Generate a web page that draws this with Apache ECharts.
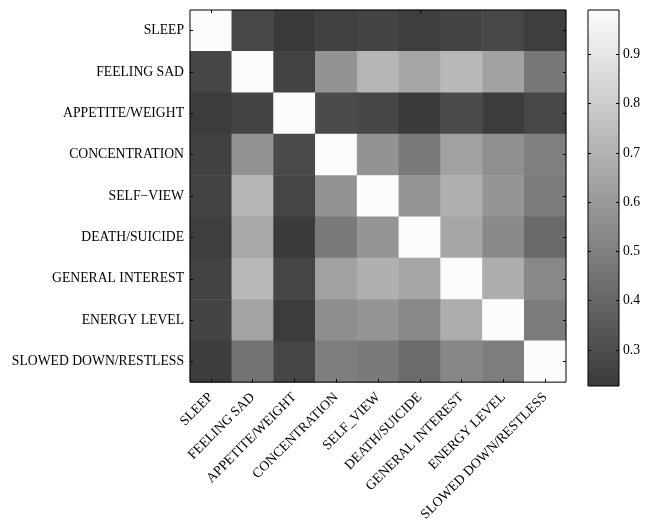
<!DOCTYPE html>
<html>
<head>
<meta charset="utf-8">
<script src="https://cdn.jsdelivr.net/npm/echarts@6/dist/echarts.min.js"></script>
<style>
html,body{margin:0;padding:0;background:#fff;}
#chart{width:652px;height:524px;}
</style>
</head>
<body>
<div id="chart"></div>
<script>
var categories = ['SLEEP','FEELING SAD','APPETITE/WEIGHT','CONCENTRATION','SELF\u2212VIEW','DEATH/SUICIDE','GENERAL INTEREST','ENERGY LEVEL','SLOWED DOWN/RESTLESS'];

var rowSleep        = [1.000,0.278,0.227,0.255,0.267,0.243,0.267,0.278,0.243];
var rowFeelingSad   = [0.275,1.000,0.263,0.576,0.710,0.651,0.722,0.631,0.467];
var rowAppetite     = [0.235,0.267,1.000,0.294,0.275,0.227,0.290,0.235,0.278];
var rowConcentration= [0.255,0.576,0.290,1.000,0.576,0.478,0.631,0.561,0.502];
var rowSelfView     = [0.263,0.710,0.275,0.576,1.000,0.584,0.690,0.584,0.482];
var rowDeath        = [0.243,0.659,0.231,0.478,0.584,1.000,0.655,0.541,0.416];
var rowInterest     = [0.263,0.722,0.270,0.631,0.690,0.651,1.000,0.682,0.533];
var rowEnergy       = [0.267,0.639,0.235,0.557,0.584,0.533,0.678,1.000,0.486];
var rowSlowed       = [0.239,0.451,0.270,0.494,0.478,0.420,0.529,0.490,1.000];

var colorbarTicks = [0.3,0.4,0.5,0.6,0.7,0.8,0.9];
var colorbarMin = 0.227;
var colorbarMax = 0.99;

var rows = [rowSleep,rowFeelingSad,rowAppetite,rowConcentration,rowSelfView,rowDeath,rowInterest,rowEnergy,rowSlowed];
var heatData = [];
rows.forEach(function(r, yi){ r.forEach(function(v, xi){ heatData.push([xi, yi, v]); }); });

var font = 'Liberation Serif, Times New Roman, serif';
var fs = 13.7;
var chart = echarts.init(document.getElementById('chart'), null, {renderer:'canvas'});
var tickStyle = {show:true, inside:true, length:3, alignWithLabel:true, lineStyle:{color:'#000', width:1}};
chart.setOption({
  animation:false,
  backgroundColor:'#fff',
  grid:[
    {left:190, top:10, width:376, height:376, show:true, borderColor:'#000', borderWidth:1, z:10, backgroundColor:'transparent'},
    {left:588, top:10, width:31, height:376, show:true, borderColor:'#000', borderWidth:1, z:10, backgroundColor:'transparent'}
  ],
  xAxis:[
    {type:'category', gridIndex:0, data:categories, position:'bottom', z:10,
      axisLine:{show:false}, axisTick:tickStyle, splitLine:{show:false},
      axisLabel:{rotate:45, margin:13, fontFamily:font, fontSize:fs, color:'#000', interval:0,
        formatter:function(s){ return s.replace('\u2212','_'); }}},
    {type:'category', gridIndex:0, data:categories, position:'top', z:10,
      axisLine:{show:false}, axisTick:tickStyle, axisLabel:{show:false}, splitLine:{show:false}},
    {type:'category', gridIndex:1, data:['cb'], axisLine:{show:false}, axisTick:{show:false}, axisLabel:{show:false}}
  ],
  yAxis:[
    {type:'category', gridIndex:0, data:categories, inverse:true, position:'left', z:10,
      axisLine:{show:false}, axisTick:tickStyle, splitLine:{show:false},
      axisLabel:{margin:6, fontFamily:font, fontSize:fs, color:'#000', interval:0}},
    {type:'category', gridIndex:0, data:categories, inverse:true, position:'right', z:10,
      axisLine:{show:false}, axisTick:tickStyle, axisLabel:{show:false}, splitLine:{show:false}},
    {type:'value', gridIndex:1, min:colorbarMin, max:colorbarMax, position:'right', z:10,
      axisLine:{show:false}, splitLine:{show:false},
      axisTick:{show:true, inside:true, length:3, customValues:colorbarTicks, lineStyle:{color:'#000'}},
      axisLabel:{show:true, margin:4, customValues:colorbarTicks, fontFamily:font, fontSize:fs, color:'#000',
        formatter:function(v){ return v.toFixed(1); }}},
    {type:'value', gridIndex:1, min:colorbarMin, max:colorbarMax, position:'left', z:10,
      axisLine:{show:false}, splitLine:{show:false},
      axisTick:{show:true, inside:true, length:3, customValues:colorbarTicks, lineStyle:{color:'#000'}},
      axisLabel:{show:false}}
  ],
  visualMap:{show:false, type:'continuous', seriesIndex:0, min:colorbarMin, max:colorbarMax,
    inRange:{color:['#3a3a3a','#fcfcfc']}},
  series:[
    {type:'heatmap', xAxisIndex:0, yAxisIndex:0, data:heatData, itemStyle:{borderWidth:0}},
    {type:'bar', xAxisIndex:2, yAxisIndex:2, stack:'cb', barWidth:'100%', silent:true,
      data:[colorbarMin], itemStyle:{color:'transparent'}},
    {type:'bar', xAxisIndex:2, yAxisIndex:2, stack:'cb', barWidth:'100%', silent:true,
      data:[colorbarMax - colorbarMin],
      itemStyle:{color:new echarts.graphic.LinearGradient(0,0,0,1,[{offset:0,color:'#fcfcfc'},{offset:1,color:'#3a3a3a'}])}}
  ]
});
</script>
</body>
</html>
